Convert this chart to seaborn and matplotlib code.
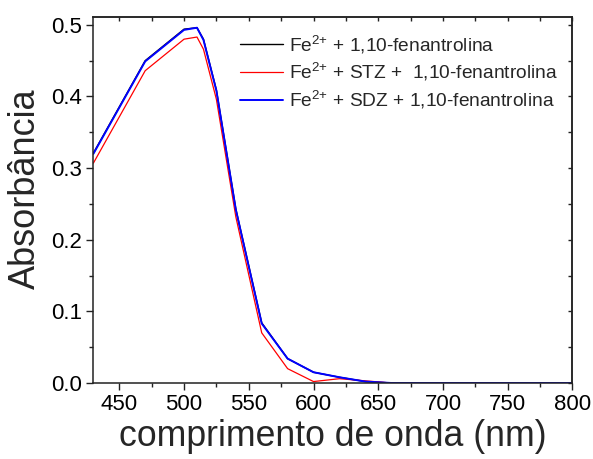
import matplotlib
matplotlib.use("Agg")
import matplotlib.pyplot as plt
import seaborn as sns
import pandas as pd
from matplotlib.ticker import MultipleLocator, FormatStrFormatter

wavelength = [430, 470, 500, 510, 515, 525, 540, 560, 580, 600, 620, 640, 660, 680, 700, 720, 740, 760, 780, 800]
abs_fe = [0.321, 0.450, 0.494, 0.496, 0.480, 0.409, 0.243, 0.084, 0.034, 0.015, 0.008, 0.002, 0.0, 0.0, 0.0, 0.0, 0.0, 0.0, 0.0, 0.0]
abs_stz = [0.307, 0.436, 0.480, 0.483, 0.466, 0.396, 0.232, 0.070, 0.020, 0.002, 0.006, 0.003, 0.0, 0.0, 0.0, 0.0, 0.0, 0.0, 0.0, 0.0]
abs_sdz = [0.320, 0.449, 0.493, 0.496, 0.479, 0.408, 0.242, 0.083, 0.034, 0.015, 0.008, 0.002, 0.0, 0.0, 0.0, 0.0, 0.0, 0.0, 0.0, 0.0]
labels = ["Fe$^{2{+}}$ + 1,10-fenantrolina",
          "Fe$^{2{+}}$ + STZ +  1,10-fenantrolina",
          "Fe$^{2{+}}$ + SDZ + 1,10-fenantrolina"]
colors = ["black", "red", "blue"]
widths = [1.0, 0.9, 1.4]

sns.set_style("ticks")
plt.rcParams['font.family'] = ['Liberation Sans', 'DejaVu Sans']
plt.rcParams['mathtext.fontset'] = 'custom'
plt.rcParams['mathtext.rm'] = 'Liberation Sans'
plt.rcParams['mathtext.it'] = 'Liberation Sans'
plt.rcParams['mathtext.default'] = 'regular'

fig = plt.figure(figsize=(5.93, 4.59), dpi=100)
ax = fig.add_axes([0.1575, 0.1656, 0.8079, 0.7974])

for vals, lab, col, lw in zip([abs_fe, abs_stz, abs_sdz], labels, colors, widths):
    df = pd.DataFrame({"wl": wavelength, "a": vals})
    sns.lineplot(data=df, x="wl", y="a", ax=ax, color=col, linewidth=lw, label=lab)

ax.set_xlim(430, 800)
ax.set_ylim(0, 0.511)
ax.xaxis.set_major_locator(MultipleLocator(50))
ax.xaxis.set_minor_locator(MultipleLocator(25))
ax.yaxis.set_major_locator(MultipleLocator(0.1))
ax.yaxis.set_minor_locator(MultipleLocator(0.05))
ax.yaxis.set_major_formatter(FormatStrFormatter('%.1f'))
ax.tick_params(which='major', direction='out', length=5, width=1.0, labelsize=16, colors='#222222', labelcolor='black', pad=3)
ax.tick_params(which='minor', direction='out', length=3, width=1.0, colors='#222222')

for s in ax.spines.values():
    s.set_visible(True)
    s.set_linewidth(1.1)
    s.set_color('#222222')

top = ax.secondary_xaxis('top')
top.xaxis.set_major_locator(MultipleLocator(25))
top.tick_params(direction='in', length=3, width=1.0, labeltop=False, colors='#222222')
top.spines['top'].set_linewidth(1.1)
right = ax.secondary_yaxis('right')
right.yaxis.set_major_locator(MultipleLocator(0.05))
right.tick_params(direction='in', length=3, width=1.0, labelright=False, colors='#222222')
right.spines['right'].set_linewidth(1.1)

ax.set_xlabel("comprimento de onda (nm)", fontsize=25.7, labelpad=3)
ax.set_ylabel("Absorbância", fontsize=26)
ax.yaxis.set_label_coords(-0.105, 0.53)

ax.legend(loc='upper left', bbox_to_anchor=(0.305, 0.955), frameon=False, fontsize=13.8,
          handlelength=2.25, handletextpad=0.35, labelspacing=0.3, borderpad=0, borderaxespad=0)

fig.savefig("out.png", dpi=100)
